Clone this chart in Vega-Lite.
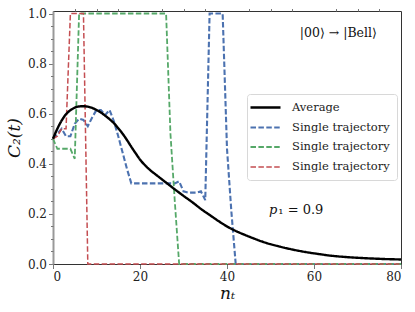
{
  "$schema": "https://vega.github.io/schema/vega-lite/v6.json",
  "width": 348,
  "height": 253,
  "autosize": {"type": "none"},
  "padding": {"left": 53, "top": 11, "right": 14, "bottom": 48},
  "background": "white",
  "config": {
    "view": {"stroke": "#333", "strokeWidth": 1},
    "font": "DejaVu Serif",
    "legend": {
      "orient": "none",
      "legendX": 194,
      "legendY": 83,
      "title": null,
      "symbolType": "M-2,0H4",
      "symbolSize": 100,
      "labelFont": "DejaVu Serif",
      "labelFontSize": 11.5,
      "labelColor": "#222",
      "labelOffset": 25,
      "padding": 7,
      "rowPadding": 8,
      "strokeColor": "#d8d8d8",
      "fillColor": "white",
      "cornerRadius": 3
    }
  },
  "datasets": {
    "traj": [
      {"n": 0, "c": 0.5, "series": "b"},
      {"n": 1, "c": 0.52, "series": "b"},
      {"n": 2, "c": 0.54, "series": "b"},
      {"n": 3, "c": 0.51, "series": "b"},
      {"n": 4, "c": 0.51, "series": "b"},
      {"n": 5, "c": 0.56, "series": "b"},
      {"n": 6, "c": 0.58, "series": "b"},
      {"n": 7, "c": 0.575, "series": "b"},
      {"n": 8, "c": 0.55, "series": "b"},
      {"n": 9, "c": 0.585, "series": "b"},
      {"n": 10, "c": 0.615, "series": "b"},
      {"n": 11, "c": 0.615, "series": "b"},
      {"n": 12, "c": 0.595, "series": "b"},
      {"n": 13, "c": 0.615, "series": "b"},
      {"n": 14, "c": 0.57, "series": "b"},
      {"n": 15, "c": 0.51, "series": "b"},
      {"n": 16, "c": 0.445, "series": "b"},
      {"n": 17, "c": 0.38, "series": "b"},
      {"n": 18, "c": 0.322, "series": "b"},
      {"n": 28, "c": 0.322, "series": "b"},
      {"n": 29, "c": 0.33, "series": "b"},
      {"n": 30, "c": 0.29, "series": "b"},
      {"n": 31, "c": 0.285, "series": "b"},
      {"n": 33, "c": 0.285, "series": "b"},
      {"n": 34, "c": 0.29, "series": "b"},
      {"n": 35, "c": 0.255, "series": "b"},
      {"n": 36, "c": 1.0, "series": "b"},
      {"n": 39, "c": 1.0, "series": "b"},
      {"n": 40, "c": 0.46, "series": "b"},
      {"n": 41, "c": 0.21, "series": "b"},
      {"n": 42, "c": 0.0, "series": "b"},
      {"n": 80, "c": 0.0, "series": "b"},
      {"n": 0, "c": 0.5, "series": "g"},
      {"n": 1, "c": 0.46, "series": "g"},
      {"n": 4, "c": 0.46, "series": "g"},
      {"n": 5, "c": 0.42, "series": "g"},
      {"n": 6, "c": 1.0, "series": "g"},
      {"n": 26, "c": 1.0, "series": "g"},
      {"n": 27, "c": 0.52, "series": "g"},
      {"n": 28, "c": 0.25, "series": "g"},
      {"n": 29, "c": 0.0, "series": "g"},
      {"n": 80, "c": 0.0, "series": "g"},
      {"n": 0, "c": 0.5, "series": "r"},
      {"n": 1, "c": 0.51, "series": "r"},
      {"n": 2, "c": 0.54, "series": "r"},
      {"n": 3, "c": 0.54, "series": "r"},
      {"n": 4, "c": 1.0, "series": "r"},
      {"n": 7, "c": 1.0, "series": "r"},
      {"n": 8, "c": 0.0, "series": "r"},
      {"n": 80, "c": 0.0, "series": "r"}
    ],
    "avg": [
      {"n": 0, "c": 0.5, "series": "Average"},
      {"n": 1, "c": 0.54, "series": "Average"},
      {"n": 2, "c": 0.573, "series": "Average"},
      {"n": 3, "c": 0.598, "series": "Average"},
      {"n": 4, "c": 0.614, "series": "Average"},
      {"n": 5, "c": 0.624, "series": "Average"},
      {"n": 6, "c": 0.629, "series": "Average"},
      {"n": 7, "c": 0.63, "series": "Average"},
      {"n": 8, "c": 0.628, "series": "Average"},
      {"n": 9, "c": 0.623, "series": "Average"},
      {"n": 10, "c": 0.615, "series": "Average"},
      {"n": 11, "c": 0.605, "series": "Average"},
      {"n": 12, "c": 0.592, "series": "Average"},
      {"n": 13, "c": 0.578, "series": "Average"},
      {"n": 14, "c": 0.562, "series": "Average"},
      {"n": 15, "c": 0.542, "series": "Average"},
      {"n": 16, "c": 0.52, "series": "Average"},
      {"n": 17, "c": 0.495, "series": "Average"},
      {"n": 18, "c": 0.468, "series": "Average"},
      {"n": 19, "c": 0.442, "series": "Average"},
      {"n": 20, "c": 0.417, "series": "Average"},
      {"n": 22, "c": 0.38, "series": "Average"},
      {"n": 24, "c": 0.352, "series": "Average"},
      {"n": 26, "c": 0.325, "series": "Average"},
      {"n": 28, "c": 0.298, "series": "Average"},
      {"n": 30, "c": 0.272, "series": "Average"},
      {"n": 32, "c": 0.247, "series": "Average"},
      {"n": 34, "c": 0.22, "series": "Average"},
      {"n": 36, "c": 0.196, "series": "Average"},
      {"n": 38, "c": 0.172, "series": "Average"},
      {"n": 40, "c": 0.15, "series": "Average"},
      {"n": 42, "c": 0.132, "series": "Average"},
      {"n": 44, "c": 0.117, "series": "Average"},
      {"n": 46, "c": 0.103, "series": "Average"},
      {"n": 48, "c": 0.09, "series": "Average"},
      {"n": 50, "c": 0.079, "series": "Average"},
      {"n": 52, "c": 0.07, "series": "Average"},
      {"n": 55, "c": 0.058, "series": "Average"},
      {"n": 58, "c": 0.048, "series": "Average"},
      {"n": 61, "c": 0.04, "series": "Average"},
      {"n": 64, "c": 0.033, "series": "Average"},
      {"n": 68, "c": 0.027, "series": "Average"},
      {"n": 72, "c": 0.023, "series": "Average"},
      {"n": 76, "c": 0.02, "series": "Average"},
      {"n": 80, "c": 0.018, "series": "Average"}
    ],
    "notes": [
      {"n": 65.6, "c": 0.921, "label": "|00⟩ → |Bell⟩"}
    ],
    "pnote": [
      {"n": 51.8, "c": 0.215, "p": "p", "rest": "₁ = 0.9"}
    ]
  },
  "layer": [
    {
      "data": {"name": "traj"},
      "mark": {"type": "line", "strokeCap": "butt"},
      "encoding": {
        "x": {
          "field": "n", "type": "quantitative",
          "scale": {"domain": [0, 80], "nice": false, "zero": false},
          "axis": {
            "values": [0, 20, 40, 60, 80], "grid": false,
            "tickSize": 4.5, "tickColor": "#777", "tickWidth": 1,
            "domainColor": "#333", "domainWidth": 1.2,
            "labelFont": "DejaVu Serif", "labelFontSize": 12, "labelColor": "#222",
            "labelPadding": 3,
            "title": "nₜ", "titleFont": "DejaVu Serif", "titleFontStyle": "italic",
            "titleFontWeight": "normal", "titleFontSize": 17, "titleColor": "#111",
            "titlePadding": 3
          }
        },
        "y": {
          "field": "c", "type": "quantitative",
          "scale": {"domain": [0, 1.01], "nice": false, "zero": false},
          "axis": {
            "values": [0, 0.2, 0.4, 0.6, 0.8, 1.0], "format": ".1f", "grid": false,
            "tickSize": 4.5, "tickColor": "#777", "tickWidth": 1,
            "domainColor": "#999", "domainWidth": 2,
            "labelFont": "DejaVu Serif", "labelFontSize": 12, "labelColor": "#222",
            "labelPadding": 2,
            "title": "C₂(t)", "titleFont": "DejaVu Serif", "titleFontStyle": "italic",
            "titleFontWeight": "normal", "titleFontSize": 17, "titleColor": "#111",
            "titlePadding": 4
          }
        },
        "detail": {"field": "series"},
        "color": {
          "field": "series", "type": "nominal",
          "scale": {"domain": ["Average", "b", "g", "r"], "range": ["#000000", "#4C72B0", "#55A868", "#C44E52"]},
          "legend": {"labelExpr": "datum.label == 'Average' ? 'Average' : 'Single trajectory'"}
        },
        "strokeDash": {
          "field": "series", "type": "nominal",
          "scale": {"domain": ["Average", "b", "g", "r"], "range": [[1, 0], [5.5, 2.4], [5.5, 2.4], [5.5, 2.4]]},
          "legend": {"labelExpr": "datum.label == 'Average' ? 'Average' : 'Single trajectory'"}
        },
        "strokeWidth": {
          "field": "series", "type": "nominal",
          "scale": {"domain": ["Average", "b", "g", "r"], "range": [2.4, 1.5, 1.5, 1.5]},
          "legend": {"labelExpr": "datum.label == 'Average' ? 'Average' : 'Single trajectory'"}
        }
      }
    },
    {
      "data": {"name": "avg"},
      "mark": {"type": "line", "interpolate": "monotone"},
      "encoding": {
        "x": {
          "field": "n", "type": "quantitative",
          "axis": {
            "values": [5, 10, 15, 25, 30, 35, 45, 50, 55, 65, 70, 75],
            "labels": false, "domain": false, "grid": false, "title": null,
            "tickSize": 2.5, "tickColor": "#777", "tickWidth": 1
          }
        },
        "y": {
          "field": "c", "type": "quantitative",
          "axis": {
            "values": [0.05, 0.1, 0.15, 0.25, 0.3, 0.35, 0.45, 0.5, 0.55, 0.65, 0.7, 0.75, 0.85, 0.9, 0.95],
            "labels": false, "domain": false, "grid": false, "title": null, "orient": "left",
            "tickSize": 2.5, "tickColor": "#777", "tickWidth": 1
          }
        },
        "color": {"field": "series", "type": "nominal"},
        "strokeDash": {"field": "series", "type": "nominal"},
        "strokeWidth": {"field": "series", "type": "nominal"}
      }
    },
    {
      "mark": {"type": "rule", "color": "#000", "strokeWidth": 1.5, "strokeDash": [1.5, 2.5]},
      "encoding": {
        "y": {"datum": 0.02, "type": "quantitative", "axis": null}
      }
    },
    {
      "data": {"name": "notes"},
      "mark": {"type": "text", "font": "DejaVu Serif", "fontSize": 12.5, "color": "#111", "align": "center", "baseline": "middle"},
      "encoding": {
        "x": {"field": "n", "type": "quantitative", "axis": null},
        "y": {"field": "c", "type": "quantitative", "axis": null},
        "text": {"field": "label"}
      }
    },
    {
      "data": {"name": "pnote"},
      "mark": {"type": "text", "font": "DejaVu Serif", "fontSize": 13, "fontStyle": "italic", "color": "#111", "align": "right", "baseline": "middle", "dx": -1},
      "encoding": {
        "x": {"field": "n", "type": "quantitative", "axis": null},
        "y": {"field": "c", "type": "quantitative", "axis": null},
        "text": {"field": "p"}
      }
    },
    {
      "data": {"name": "pnote"},
      "mark": {"type": "text", "font": "DejaVu Serif", "fontSize": 13, "color": "#111", "align": "left", "baseline": "middle"},
      "encoding": {
        "x": {"field": "n", "type": "quantitative", "axis": null},
        "y": {"field": "c", "type": "quantitative", "axis": null},
        "text": {"field": "rest"}
      }
    }
  ],
  "resolve": {"axis": {"x": "independent", "y": "independent"}}
}
